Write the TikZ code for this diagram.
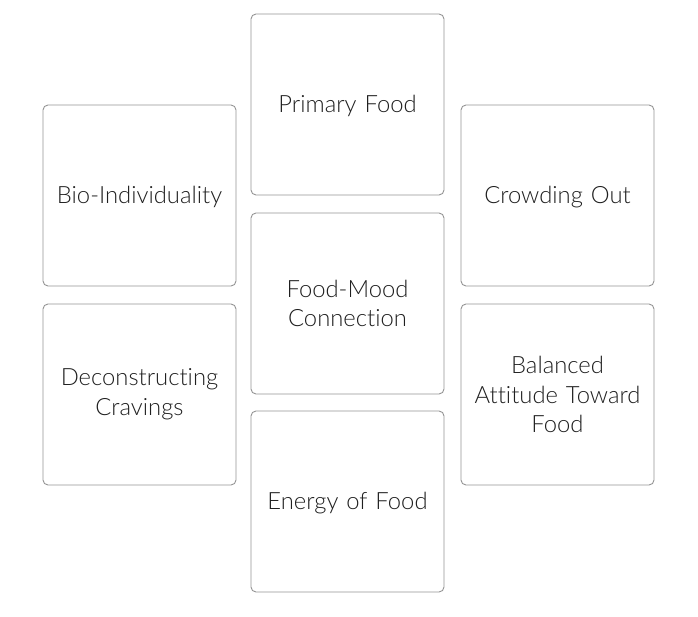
\documentclass[tikz,border=0pt]{standalone}
\usepackage{fontspec}
\setmainfont{Lato Light}[Ligatures={NoCommon}, WordSpace=0.65]
\begin{document}
\begin{tikzpicture}[x=1pt,y=-1pt,
  card/.style={draw=black!42, line width=0.9pt, rounded corners=5pt, fill=white,
    minimum width=193pt, minimum height=181pt, inner sep=0pt, align=center,
    text width=185pt, font=\fontsize{23.8}{29.5}\selectfont, text=black!88},
  oneline/.style={card, text height=15.6pt, text depth=0pt},
  ]
\useasboundingbox[fill=white] (0,0) rectangle (698,617);
\node[oneline] (primary) at (347.5,104.5) {Primary Food};
\node[oneline] (bio) at (139.5,195.5) {Bio-Individuality};
\node[oneline] (crowd) at (557.5,195.5) {Crowding Out};
\node[card] (mood) at (347.5,303.5) {Food-Mood\\Connection};
\node[card, font=\fontsize{23.8}{30}\selectfont] (crav) at (139.5,394.5) {Deconstructing\\Cravings};
\node[card] (bal) at (557.5,394.5) {Balanced\\Attitude Toward\\Food};
\node[oneline] (energy) at (347.5,501.5) {Energy of Food};
\end{tikzpicture}
\end{document}
